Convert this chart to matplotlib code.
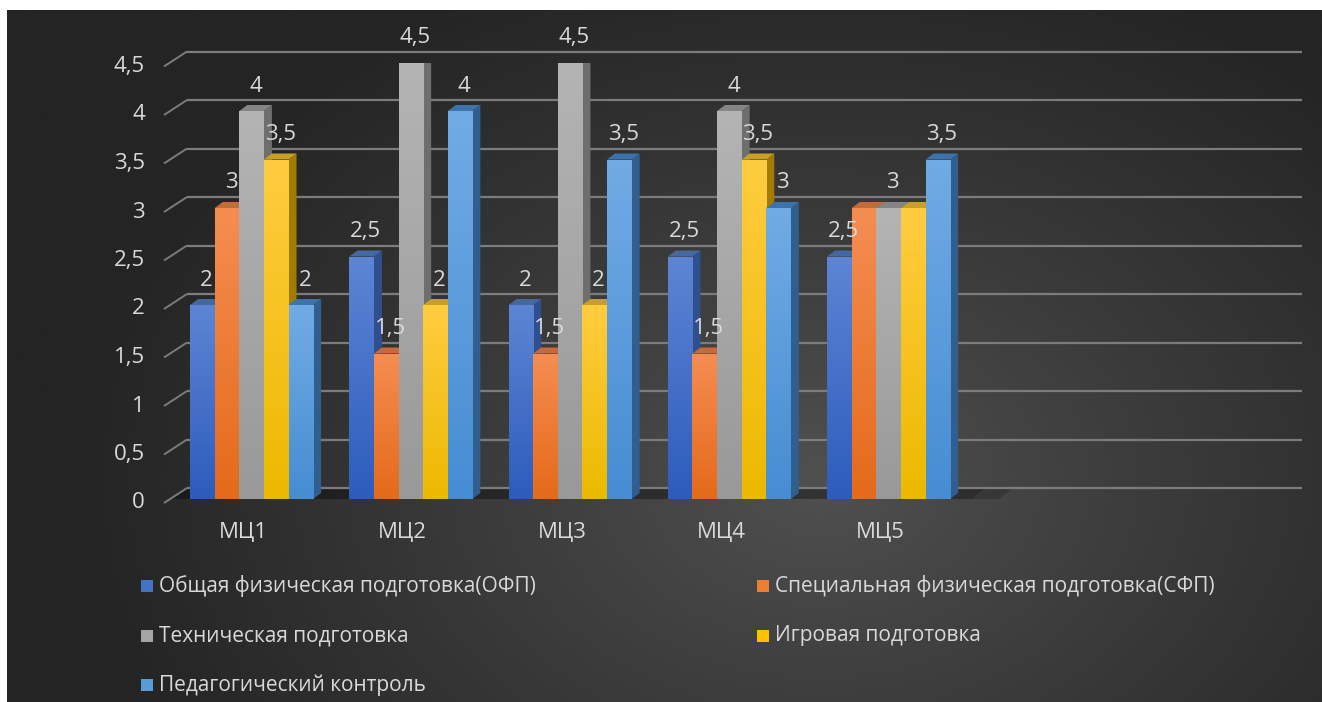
import numpy as np
import matplotlib
matplotlib.use("Agg")
import matplotlib.pyplot as plt
from matplotlib.patches import Polygon, Rectangle
from matplotlib.transforms import Affine2D, IdentityTransform
from matplotlib.colors import to_rgb

# ---------------- data ----------------
categories = ["МЦ1", "МЦ2", "МЦ3", "МЦ4", "МЦ5"]
series_names = [
    "Общая физическая подготовка(ОФП)",
    "Специальная физическая подготовка(СФП)",
    "Техническая подготовка",
    "Игровая подготовка",
    "Педагогический контроль",
]
ofp = [2, 2.5, 2, 2.5, 2.5]
sfp = [3, 1.5, 1.5, 1.5, 3]
tech = [4, 4.5, 4.5, 4, 3]
game = [3.5, 2, 2, 3.5, 3]
ped = [2, 4, 3.5, 3, 3.5]
series_values = [ofp, sfp, tech, game, ped]
# labels hidden in the original (МЦ5: СФП and Игровая)
label_hidden = [(1, 4), (3, 4)]
y_ticks = [0, 0.5, 1, 1.5, 2, 2.5, 3, 3.5, 4, 4.5]
y_tick_labels = ["0", "0,5", "1", "1,5", "2", "2,5", "3", "3,5", "4", "4,5"]

# ---------------- styles ----------------
front_top = ["#5d85d4", "#f58d52", "#b4b4b4", "#ffcc40", "#71abe5"]
front_bot = ["#2d5cbc", "#e56a1a", "#999999", "#ecb900", "#468dd2"]
side_col = ["#2f4f8f", "#b0581c", "#6e6e6e", "#a27c00", "#2f5e8f"]
topf_col = ["#45699f", "#c8693a", "#858585", "#c9a027", "#3e72aa"]
legend_col = ["#4472c4", "#ed7d31", "#a5a5a5", "#ffc000", "#5b9bd5"]
txt_col = "#d9d9d9"
grid_col = "#7c7c7c"
FONT = "Open Sans"
FS = 16

W, H = 1322, 702
fig = plt.figure(figsize=(W / 100, H / 100), dpi=100, facecolor="white")

# background radial gradient
bg = fig.add_axes([7 / W, 0, (W - 7) / W, (H - 10) / H])
bg.set_axis_off()
gx, gy = np.meshgrid(np.linspace(7, W, 400), np.linspace(10, H, 220))
r = np.sqrt(((gx - 820) / 760) ** 2 + ((gy - 480) / 560) ** 2)
t = np.clip(1 - r, 0, 1) ** 1.1
lv = (36 + (80 - 36) * t) / 255.0
img = np.dstack([lv, lv, lv])
bg.imshow(img, extent=(0, 1, 0, 1), origin="upper", aspect="auto", interpolation="bilinear")
bg.set_xlim(0, 1)
bg.set_ylim(0, 1)

# main plot axes (bar front plane)
ax = fig.add_axes([172 / W, (H - 499) / H, 1114.75 / W, 436.5 / H])
ax.set_axis_off()
ax.patch.set_alpha(0)
ax.set_xlim(-0.5, 6.5)
ax.set_ylim(0, 4.5)

FRONT = (-8, -4)
BACK = (15, 11)
DEPTH = (8, 6)


def off(dx, dy):
    return ax.transData + Affine2D().translate(dx, dy)


def disp(x, y, o=(0, 0)):
    px, py = ax.transData.transform((x, y))
    return (px + o[0], py + o[1])


x0, x1 = ax.get_xlim()
nser = len(series_values)
bw = 0.1545
last_right = len(categories) - 1 + (nser / 2) * bw

# floor shadow under the bars (between back wall and bar front)
steps = 30
span = last_right + 0.3 - x0
for k in range(steps):
    xa = x0 + span * k / steps
    xb = x0 + span * (k + 1) / steps
    fade = 1.0 if xa < last_right else max(0.0, 1 - (xa - last_right) / 0.3)
    pts = [disp(xa, 0, (0, -1)), disp(xb, 0, (0, -1)), disp(xb, 0, BACK), disp(xa, 0, BACK)]
    ax.add_artist(Polygon(pts, closed=True, transform=IdentityTransform(),
                          facecolor="black", alpha=0.35 * fade, edgecolor="none", zorder=0.5))

# gridlines: slant on left wall + horizontal on back wall
for v in y_ticks:
    p1 = disp(x0, v, FRONT)
    p2 = disp(x0, v, BACK)
    ax.plot([p1[0], p2[0]], [p1[1], p2[1]], transform=IdentityTransform(),
            color=grid_col, lw=1.4, clip_on=False, zorder=1, solid_capstyle="butt")
    ax.plot([x0, x1], [v, v], transform=off(*BACK), color=grid_col, lw=1.6,
            clip_on=False, zorder=1, solid_capstyle="butt")

# tick labels
for v, lab in zip(y_ticks, y_tick_labels):
    ax.annotate(lab, (x0, v), xytext=(FRONT[0] - 19, FRONT[1]), textcoords="offset pixels",
                ha="right", va="center", color=txt_col, fontsize=FS, family=FONT,
                annotation_clip=False)

# category labels
for i, c in enumerate(categories):
    ax.annotate(c, (i, 0), xytext=(-8, -34), textcoords="offset pixels",
                ha="center", va="center", color=txt_col, fontsize=FS, family=FONT,
                annotation_clip=False)

# bars
xs = np.arange(len(categories))
z = 2
for ci in range(len(categories)):
    for si in range(nser):
        v = series_values[si][ci]
        xc = xs[ci] + (si - (nser - 1) / 2) * bw
        xl, xr = xc - bw / 2, xc + bw / 2
        side = [disp(xr, 0), disp(xr, 0, DEPTH), disp(xr, v, DEPTH), disp(xr, v)]
        ax.add_artist(Polygon(side, closed=True, transform=IdentityTransform(),
                              facecolor=side_col[si], edgecolor="none", zorder=z))
        top = [disp(xl, v), disp(xr, v), disp(xr, v, DEPTH), disp(xl, v, DEPTH)]
        ax.add_artist(Polygon(top, closed=True, transform=IdentityTransform(),
                              facecolor=topf_col[si], edgecolor="none", zorder=z + 0.1))
        bar = ax.bar(xc, v, width=bw, color=front_bot[si], edgecolor="none", zorder=z + 0.2)[0]
        grad = np.linspace(0, 1, 64)[:, None]
        ct, cb = np.array(to_rgb(front_top[si])), np.array(to_rgb(front_bot[si]))
        gimg = ct[None, None, :] * (1 - grad[:, :, None]) + cb[None, None, :] * grad[:, :, None]
        im = ax.imshow(gimg, extent=(xl, xr, 0, v), origin="upper", aspect="auto",
                       zorder=z + 0.3, interpolation="bilinear")
        im.set_clip_path(bar)
        z += 1

ax.set_xlim(x0, x1)
ax.set_ylim(0, 4.5)

# data labels
for si in range(nser):
    for ci in range(len(categories)):
        if (si, ci) in label_hidden:
            continue
        v = series_values[si][ci]
        xc = xs[ci] + (si - (nser - 1) / 2) * bw
        lab = ("%g" % v).replace(".", ",")
        ax.annotate(lab, (xc, v), xytext=(4, 25), textcoords="offset pixels",
                    ha="center", va="center", color=txt_col, fontsize=FS, family=FONT,
                    annotation_clip=False, zorder=200)

# legend (two columns, row-wise order)
for k, name in enumerate(series_names):
    row, col = k // 2, k % 2
    sx = 141 + col * 616
    cy = 586 + row * 49.5
    fig.add_artist(Rectangle((sx / W, (H - cy - 6) / H), 12 / W, 12 / H,
                             transform=fig.transFigure, facecolor=legend_col[k],
                             edgecolor="none", zorder=5))
    fig.text((sx + 18) / W, (H - cy) / H, name, ha="left", va="center",
             color=txt_col, fontsize=15, family=FONT, zorder=5)

fig.savefig("out.png", dpi=100, facecolor=fig.get_facecolor())
